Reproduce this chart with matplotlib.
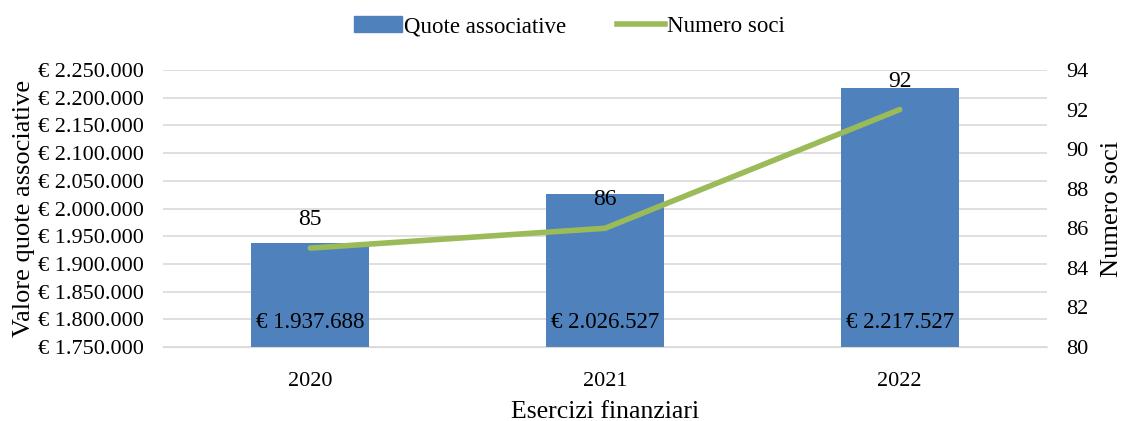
import matplotlib.pyplot as plt
import matplotlib.ticker as mticker
from matplotlib.patches import Patch
from matplotlib.lines import Line2D

years = ["2020", "2021", "2022"]
quote = [1937688, 2026527, 2217527]
soci = [85, 86, 92]

BAR = "#4F81BD"
LINE = "#9BBB59"
GRID = "#D9D9D9"

plt.rcParams['font.family'] = ['Liberation Serif', 'DejaVu Serif']
plt.rcParams['font.size'] = 16


def euro(v, pos=None):
    return "€ " + f"{int(v):,}".replace(",", ".")


fig = plt.figure(figsize=(11.21, 4.21), dpi=100)
ax = fig.add_axes([0.1454, 0.1758, 0.7886, 0.6579])
x = list(range(len(years)))

bars = ax.bar(x, quote, width=0.4, color=BAR, zorder=2)
ax.set_ylim(1750000, 2250000)
ax.set_yticks(range(1750000, 2250001, 50000))
ax.yaxis.set_major_formatter(mticker.FuncFormatter(euro))
ax.set_xlim(-0.5, 2.5)
ax.set_xticks(x)
ax.set_xticklabels(years)
ax.grid(axis='y', color=GRID, lw=1.2, zorder=0)
ax.set_axisbelow(True)
for s in ax.spines.values():
    s.set_visible(False)
ax.spines['bottom'].set_visible(True)
ax.spines['bottom'].set_color(GRID)
ax.tick_params(axis='y', length=0, pad=14)
ax.tick_params(axis='x', length=0, pad=18)
ax.set_ylabel("Valore quote associative", fontsize=19, labelpad=2)
ax.set_xlabel("Esercizi finanziari", fontsize=18.5, labelpad=7)

# value labels inside the bars, near the base
for xi, v in zip(x, quote):
    ax.text(xi, 1750000 + 45000, euro(v), ha='center', va='center',
            fontsize=16.5, zorder=4)

ax2 = ax.twinx()
ax2.plot(x, soci, color=LINE, lw=4, solid_capstyle='round', zorder=3)
ax2.set_ylim(80, 94)
ax2.set_yticks(range(80, 95, 2))
for s in ax2.spines.values():
    s.set_visible(False)
ax2.tick_params(length=0, pad=14)
ax2.set_ylabel("Numero soci", fontsize=19, labelpad=9)
for xi, v in zip(x, soci):
    ax2.text(xi, v + 0.9, str(v), ha='center', va='bottom', fontsize=17)

handles = [Patch(color=BAR), Line2D([0], [0], color=LINE, lw=4)]
fig.legend(handles, ["Quote associative", "Numero soci"], loc='upper center',
           bbox_to_anchor=(0.508, 1.01), ncol=2, frameon=False, fontsize=16.5,
           handlelength=2.1, handletextpad=0.1, columnspacing=2.2)

fig.savefig("out.png", dpi=100)
